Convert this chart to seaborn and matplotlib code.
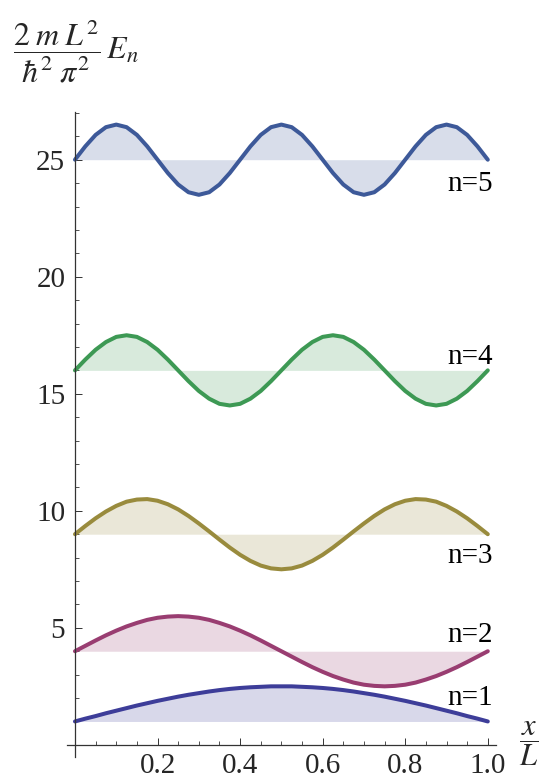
import matplotlib
matplotlib.use("Agg")
import matplotlib.pyplot as plt
import numpy as np
import seaborn as sns
from matplotlib.ticker import MultipleLocator, FixedLocator

# Niveaux d'energie (unites 2mL^2 / hbar^2 pi^2)
LEVELS = [1, 4, 9, 16, 25]
LABELS = ["n=1", "n=2", "n=3", "n=4", "n=5"]
LABEL_Y = [1.71, 4.39, 7.76, 16.28, 23.65]
COLORS = ["#3d3d99", "#993d71", "#998b3d", "#3d9954", "#3d5999"]

# position x/L des points lus
X_POS = np.linspace(0.0, 1.0, 41)

# ecart de la courbe par rapport au niveau
PSI_1 = [0.00, 0.12, 0.23, 0.35, 0.46, 0.57, 0.68, 0.78, 0.88, 0.97, 1.06, 1.14, 1.21, 1.28,
         1.34, 1.39, 1.43, 1.46, 1.48, 1.50, 1.50, 1.50, 1.48, 1.46, 1.43, 1.39, 1.34, 1.28,
         1.21, 1.14, 1.06, 0.97, 0.88, 0.78, 0.68, 0.57, 0.46, 0.35, 0.23, 0.12, 0.00]
PSI_2 = [0.00, 0.23, 0.46, 0.68, 0.88, 1.06, 1.21, 1.34, 1.43, 1.48, 1.50, 1.48, 1.43, 1.34,
         1.21, 1.06, 0.88, 0.68, 0.46, 0.23, 0.00, -0.23, -0.46, -0.68, -0.88, -1.06, -1.21,
         -1.34, -1.43, -1.48, -1.50, -1.48, -1.43, -1.34, -1.21, -1.06, -0.88, -0.68, -0.46,
         -0.23, 0.00]
PSI_3 = [0.00, 0.35, 0.68, 0.97, 1.21, 1.39, 1.48, 1.50, 1.43, 1.28, 1.06, 0.78, 0.46, 0.12,
         -0.23, -0.57, -0.88, -1.14, -1.34, -1.46, -1.50, -1.46, -1.34, -1.14, -0.88, -0.57,
         -0.23, 0.12, 0.46, 0.78, 1.06, 1.28, 1.43, 1.50, 1.48, 1.39, 1.21, 0.97, 0.68, 0.35,
         0.00]
PSI_4 = [0.00, 0.46, 0.88, 1.21, 1.43, 1.50, 1.43, 1.21, 0.88, 0.46, 0.00, -0.46, -0.88, -1.21,
         -1.43, -1.50, -1.43, -1.21, -0.88, -0.46, 0.00, 0.46, 0.88, 1.21, 1.43, 1.50, 1.43,
         1.21, 0.88, 0.46, 0.00, -0.46, -0.88, -1.21, -1.43, -1.50, -1.43, -1.21, -0.88,
         -0.46, 0.00]
PSI_5 = [0.00, 0.57, 1.06, 1.39, 1.50, 1.39, 1.06, 0.57, 0.00, -0.57, -1.06, -1.39, -1.50,
         -1.39, -1.06, -0.57, 0.00, 0.57, 1.06, 1.39, 1.50, 1.39, 1.06, 0.57, 0.00, -0.57,
         -1.06, -1.39, -1.50, -1.39, -1.06, -0.57, 0.00, 0.57, 1.06, 1.39, 1.50, 1.39, 1.06,
         0.57, 0.00]
PSI = [PSI_1, PSI_2, PSI_3, PSI_4, PSI_5]

X_TICKS = [0.2, 0.4, 0.6, 0.8, 1.0]
X_TICK_LABELS = ["0.2", "0.4", "0.6", "0.8", "1.0"]
Y_TICKS = [5, 10, 15, 20, 25]
Y_TICK_LABELS = ["5", "10", "15", "20", "25"]

sns.set_style("ticks")
plt.rcParams["font.family"] = ["Liberation Serif", "DejaVu Serif"]
plt.rcParams["mathtext.fontset"] = "stix"

fig = plt.figure(figsize=(5.42, 7.84), dpi=100)
ax = fig.add_axes([0.1231, 0.0344, 0.7921, 0.8231])

for level, psi, color, label, ly in zip(LEVELS, PSI, COLORS, LABELS, LABEL_Y):
    curve = level + np.array(psi)
    ax.fill_between(X_POS, level, curve, color=color, alpha=0.2, linewidth=0)
    sns.lineplot(x=X_POS, y=curve, color=color, linewidth=2.9, ax=ax, legend=False,
                 solid_joinstyle="round")
    ax.text(1.013, ly, label, ha="right", va="baseline", fontsize=21, color="black")

ax.set_xlim(-0.02, 1.02)
ax.set_ylim(-0.52, 27.05)

for side in ["top", "right"]:
    ax.spines[side].set_visible(False)
ax.spines["left"].set_position(("data", 0))
ax.spines["bottom"].set_position(("data", 0))
for side in ["left", "bottom"]:
    ax.spines[side].set_linewidth(0.9)
    ax.spines[side].set_color("#333333")

ax.xaxis.set_major_locator(FixedLocator(X_TICKS))
ax.set_xticklabels(X_TICK_LABELS)
ax.xaxis.set_minor_locator(MultipleLocator(0.05))
ax.yaxis.set_major_locator(FixedLocator(Y_TICKS))
ax.set_yticklabels(Y_TICK_LABELS)
ax.yaxis.set_minor_locator(MultipleLocator(1))

ax.tick_params(which="major", direction="in", length=5, width=0.7, color="#333333",
               labelsize=21, pad=7)
ax.tick_params(which="minor", direction="in", length=3, width=0.6, color="#333333")
ax.tick_params(axis="x", which="major", pad=6)

fig.text(0.024, 0.934, r"$\dfrac{2\;m\;L^2}{\hbar^2\;\pi^2}\,E_n$", fontsize=23,
         ha="left", va="center")
fig.text(0.975, 0.052, r"$\dfrac{x}{L}$", fontsize=22, ha="center", va="center")

fig.savefig("out.png", dpi=100)
